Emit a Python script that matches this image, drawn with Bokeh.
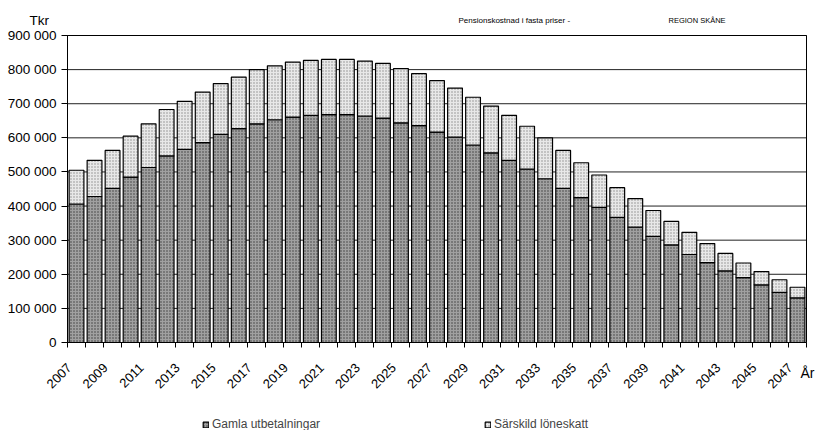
from math import pi
from bokeh.plotting import figure
from bokeh.models import (Range1d, FixedTicker, Label, Legend, LegendItem, ColumnDataSource)
from bokeh.transform import stack
from bokeh.embed import file_html
from bokeh.resources import INLINE

# ---- data (Tkr) ----
years = list(range(2007, 2048))
gamla_utbetalningar = [406000, 428000, 452000, 485000, 513000, 547000, 566000, 586000, 610000, 627000,
                       641000, 653000, 661000, 666000, 668000, 668000, 664000, 658000, 644000, 636000,
                       617000, 602000, 579000, 556000, 534000, 508000, 480000, 452000, 425000, 396000,
                       367000, 338000, 311000, 286000, 258000, 234000, 210000, 190000, 169000, 147000,
                       131000]
sarskild_loneskatt = [99000, 106000, 111000, 120000, 128000, 136000, 141000, 148000, 149000, 151000,
                      159000, 158000, 161000, 161000, 162000, 162000, 161000, 160000, 159000, 152000,
                      151000, 144000, 140000, 137000, 132000, 126000, 120000, 111000, 102000, 95000,
                      87000, 84000, 76000, 69000, 65000, 56000, 51000, 43000, 39000, 37000,
                      31000]
y_ticks = [0, 100000, 200000, 300000, 400000, 500000, 600000, 700000, 800000, 900000]
y_tick_labels = ["0", "100 000", "200 000", "300 000", "400 000", "500 000",
                 "600 000", "700 000", "800 000", "900 000"]
x_label_years = list(range(2007, 2048, 2))
x_tick_labels = [str(y) for y in x_label_years]
series_names = ["Gamla utbetalningar", "Särskild löneskatt"]
y_unit = "Tkr"
x_unit = "År"
title_left = "Pensionskostnad i fasta priser -"
title_right = "REGION SKÅNE"

FONT = "Liberation Sans"

# ---- layout: the plot frame fills the canvas; the chart box sits inside it ----
W, H = 815, 430
BOX_L, BOX_R, BOX_T, BOX_B = 67, 806, 35, 342          # chart box in canvas pixels
x_lo, x_hi = years[0] - 0.5, years[-1] + 0.5
y_lo, y_hi = y_ticks[0], y_ticks[-1]
kx = (BOX_R - BOX_L) / (x_hi - x_lo)
ky = (BOX_B - BOX_T) / (y_hi - y_lo)
x_range = Range1d(x_lo - BOX_L / kx, x_hi + (W - BOX_R) / kx)
y_range = Range1d(y_lo - (H - BOX_B) / ky, y_hi + BOX_T / ky)
LABEL_SHIFT = 0.4   # rotated year labels sit slightly left of the bar centre, as in the original


def px_x(px):
    return x_range.start + px / kx


def px_y(py):
    return y_range.start + (H - py) / ky


p = figure(width=W, height=H, output_backend="svg", toolbar_location=None,
           x_range=x_range, y_range=y_range, min_border=0)
p.title.visible = False
p.outline_line_color = None
p.background_fill_color = "white"
p.border_fill_color = "white"
p.grid.visible = False

# horizontal grid lines across the chart box
p.segment(x0=x_lo, x1=x_hi, y0=y_ticks[1:], y1=y_ticks[1:], line_color="#222222", line_width=1)

src = ColumnDataSource(dict(year=years, gamla=gamla_utbetalningar, skatt=sarskild_loneskatt))
dark = p.vbar(x="year", bottom=0, top="gamla", width=0.82, source=src,
              fill_color="#a0a0a0", line_color="black", line_width=1.2,
              hatch_pattern="dot", hatch_color="#3c3c3c", hatch_scale=3, hatch_weight=1.2)
light = p.vbar(x="year", bottom="gamla", top=stack("gamla", "skatt"), width=0.82, source=src,
               fill_color="#e8e8e8", line_color="black", line_width=1.2,
               hatch_pattern="dot", hatch_color="#8c8c8c", hatch_scale=3, hatch_weight=1.0)

# chart box border
p.quad(left=[x_lo], right=[x_hi], bottom=[y_lo], top=[y_hi], fill_color=None,
       line_color="black", line_width=1)

# axes drawn at the chart box edges
yax = p.yaxis[0]
yax.fixed_location = x_lo
yax.bounds = (y_lo, y_hi)
yax.ticker = FixedTicker(ticks=y_ticks)
yax.major_label_overrides = {t: l for t, l in zip(y_ticks, y_tick_labels)}
yax.major_tick_out = 6
yax.major_tick_in = 0
yax.minor_tick_line_color = None
yax.major_label_text_font = FONT
yax.major_label_text_font_size = "13.5px"
yax.major_label_text_color = "black"
yax.major_label_standoff = 5
yax.axis_line_color = "black"

label_pos = [y - LABEL_SHIFT for y in x_label_years]
xax = p.xaxis[0]
xax.fixed_location = y_lo
xax.bounds = (x_lo, x_hi)
xax.ticker = FixedTicker(ticks=label_pos,
                         minor_ticks=[y - 0.5 for y in years] + [x_hi])
xax.major_label_overrides = {t: l for t, l in zip(label_pos, x_tick_labels)}
xax.major_label_orientation = pi / 4
xax.major_tick_out = 0
xax.major_tick_in = 0
xax.minor_tick_out = 5
xax.minor_tick_in = 0
xax.minor_tick_line_color = "black"
xax.major_label_text_font = FONT
xax.major_label_text_font_size = "13px"
xax.major_label_text_color = "black"
xax.major_label_standoff = 18
xax.axis_line_color = "black"

# texts
def add_text(px, py, text, size):
    p.add_layout(Label(x=px_x(px), y=px_y(py), text=text, text_font=FONT,
                       text_font_size=size, text_baseline="middle", text_color="black"))

add_text(29, 20, y_unit, "13.5px")
add_text(458, 20, title_left, "8px")
add_text(668, 20, title_right, "7.5px")
add_text(800, 372, x_unit, "14px")

legend = Legend(items=[LegendItem(label=series_names[0], renderers=[dark]),
                       LegendItem(label=series_names[1], renderers=[light])],
                orientation="horizontal", location=(202, -1),
                glyph_width=7, glyph_height=7, label_standoff=3, spacing=0,
                label_width=272, padding=0, margin=0,
                label_text_font=FONT, label_text_font_size="12px",
                border_line_color=None, background_fill_alpha=0)
p.add_layout(legend, "center")

open("out.html", "w").write(file_html(p, INLINE))
